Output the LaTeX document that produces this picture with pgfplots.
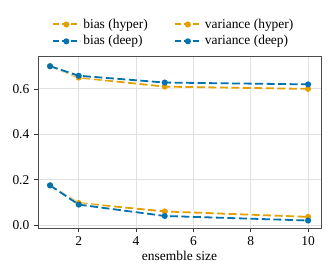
\documentclass[border=0pt]{standalone}
\usepackage{fontspec}
\setmainfont{Liberation Serif}
\usepackage{pgfplots}
\usepackage{pgfplotstable}
\pgfplotsset{compat=1.18}
\definecolor{corange}{HTML}{E69F00}
\definecolor{cblue}{HTML}{0072B2}
\pgfplotstableread{
n bias variance
1 0.700 0.175
2 0.650 0.097
5 0.610 0.060
10 0.600 0.036
}\hyper
\pgfplotstableread{
n bias variance
1 0.700 0.175
2 0.658 0.090
5 0.628 0.040
10 0.620 0.020
}\deep
\begin{document}
\fontsize{13.5}{16}\selectfont
\begin{tikzpicture}[x=1bp,y=1bp]
\begin{axis}[
  scale only axis,
  width=283bp, height=172bp,
  xmin=0.58, xmax=10.45,
  ymin=-0.013, ymax=0.745,
  xtick={2,4,6,8,10},
  ytick={0,0.2,0.4,0.6},
  yticklabel style={/pgf/number format/.cd,fixed,fixed zerofill,precision=1},
  /pgf/number format/assume math mode=true,
  tick align=outside,
  xtick pos=bottom, ytick pos=left,
  major tick length=4bp,
  tick style={black!80, line width=0.7pt},
  grid=major,
  grid style={black!12, line width=1pt},
  axis line style={black!70, line width=0.8pt},
  xlabel={ensemble size},
  xlabel style={yshift=4bp},
  ticklabel style={font=\fontsize{13.5}{16}\selectfont},
  legend columns=2,
  legend cell align=left,
  legend style={at={(0.48,1.028)}, anchor=south, draw=none, fill=none,
    font=\fontsize{13.5}{16}\selectfont, row sep=1.5bp,
    /tikz/every even column/.append style={column sep=24bp}},
  legend image code/.code={
    \draw[#1, line width=2pt, dash pattern=on 6bp off 3bp] (0bp,0bp) -- (27bp,0bp);
    \draw[#1, solid, mark repeat=1] plot coordinates {(13bp,0bp)};
  },
  halo/.style={forget plot, white, solid, line width=3.8pt, opacity=0.6, mark=none},
  ser/.style={#1, line width=1.8pt, dash pattern=on 8bp off 3.5bp,
    mark=*, mark size=2.1pt, mark options={solid, fill=#1, draw=#1}},
]
\addplot[halo] table[x=n,y=bias] {\hyper};
\addplot[ser=corange] table[x=n,y=bias] {\hyper};
\addlegendentry{bias (hyper)}
\addplot[halo] table[x=n,y=variance] {\hyper};
\addplot[ser=corange] table[x=n,y=variance] {\hyper};
\addlegendentry{variance (hyper)}
\addplot[halo] table[x=n,y=bias] {\deep};
\addplot[ser=cblue] table[x=n,y=bias] {\deep};
\addlegendentry{bias (deep)}
\addplot[halo] table[x=n,y=variance] {\deep};
\addplot[ser=cblue] table[x=n,y=variance] {\deep};
\addlegendentry{variance (deep)}
\end{axis}
\useasboundingbox (-38bp,-52bp) rectangle (294bp,228bp);
\end{tikzpicture}
\end{document}
